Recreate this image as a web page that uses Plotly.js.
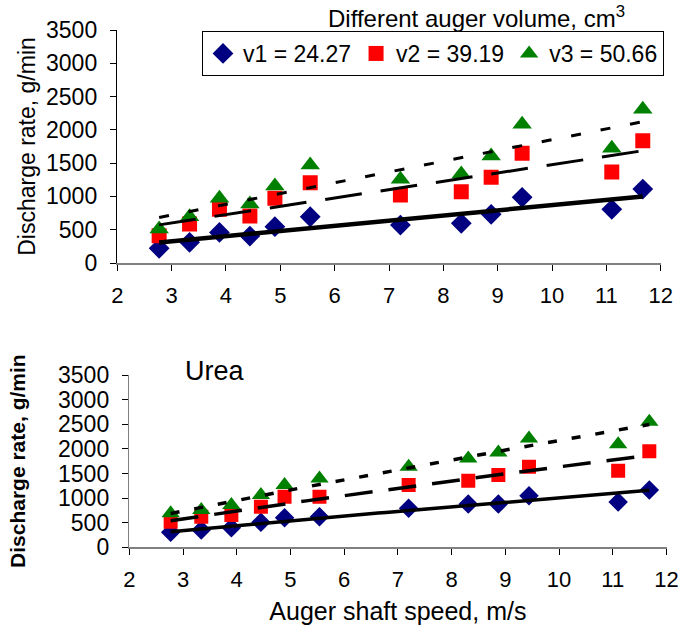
<!DOCTYPE html>
<html><head><meta charset="utf-8">
<script src="https://cdn.plot.ly/plotly-3.0.1.min.js"></script>
<style>html,body{margin:0;padding:0;background:#fff}#chart{width:684px;height:635px}</style>
</head><body><div id="chart"></div>
<script>
// Top chart data (first material)
const speedTop = [2.77, 3.33, 3.88, 4.44, 4.90, 5.55, 7.21, 8.33, 8.88, 9.45, 11.10, 11.67];
const topV1 = [220, 310, 460, 405, 545, 695, 570, 596, 731, 986, 806, 1111];
const topV2 = [410, 585, 806, 705, 971, 1206, 1021, 1071, 1287, 1647, 1366, 1837];
const topV3 = [510, 695, 971, 886, 1156, 1471, 1257, 1336, 1607, 2083, 1722, 2308];
// Bottom chart data (Urea)
const speedBot = [2.77, 3.34, 3.90, 4.45, 4.89, 5.54, 7.20, 8.31, 8.87, 9.44, 11.10, 11.68];
const botV1 = [304, 351, 398, 507, 600, 621, 791, 878, 878, 1047, 919, 1162];
const botV2 = [519, 621, 655, 824, 1026, 1026, 1264, 1351, 1467, 1635, 1554, 1953];
const botV3 = [690, 757, 858, 1061, 1264, 1400, 1635, 1805, 1927, 2211, 2095, 2548];
const seriesNames = ['v1 = 24.27', 'v2 = 39.19', 'v3 = 50.66'];
const yTicks = [0, 500, 1000, 1500, 2000, 2500, 3000, 3500];
const xTicks = [2, 3, 4, 5, 6, 7, 8, 9, 10, 11, 12];

const colors = ['#000080', '#FF0000', '#008000'];
const symbols = ['diamond', 'square', 'triangle-up'];
const msize = [16, 15, 17];

function linFit(x, y) {
  const n = x.length;
  const mx = x.reduce((a, b) => a + b, 0) / n, my = y.reduce((a, b) => a + b, 0) / n;
  let sxy = 0, sxx = 0;
  for (let i = 0; i < n; i++) { sxy += (x[i] - mx) * (y[i] - my); sxx += (x[i] - mx) ** 2; }
  const b = sxy / sxx, a = my - b * mx;
  return t => a + b * t;
}
function powFit(x, y) {
  const lx = x.map(Math.log), ly = y.map(Math.log);
  const f = linFit(lx, ly);
  return t => Math.exp(f(Math.log(t)));
}
function curve(x, fn) {
  const lo = Math.min(...x), hi = Math.max(...x);
  const xs = [], ys = [];
  for (let i = 0; i <= 60; i++) { const t = lo + (hi - lo) * i / 60; xs.push(t); ys.push(fn(t)); }
  return { xs, ys };
}

const traces = [];
const topSeries = [topV1, topV2, topV3];
const botSeries = [botV1, botV2, botV3];
for (let k = 0; k < 3; k++) {
  traces.push({ x: speedTop, y: topSeries[k], type: 'scatter', mode: 'markers', name: seriesNames[k],
    marker: { color: colors[k], symbol: symbols[k], size: msize[k] }, xaxis: 'x', yaxis: 'y', showlegend: true });
}
for (let k = 0; k < 3; k++) {
  traces.push({ x: speedBot, y: botSeries[k], type: 'scatter', mode: 'markers', name: seriesNames[k],
    marker: { color: colors[k], symbol: symbols[k], size: msize[k] - 1 }, xaxis: 'x2', yaxis: 'y2', showlegend: false });
}
const topDash = ['solid', '37px,19px', '10px,20px'];
const topW = [4.5, 3, 3];
for (let k = 0; k < 3; k++) {
  const c = curve(speedTop, linFit(speedTop, topSeries[k]));
  traces.push({ x: c.xs, y: c.ys, type: 'scatter', mode: 'lines', line: { color: '#000', width: topW[k], dash: topDash[k] },
    xaxis: 'x', yaxis: 'y', showlegend: false, hoverinfo: 'skip' });
}
const botDash = ['solid', '28px,16px', '9px,15px'];
const botW = [3.5, 3.5, 3.5];
for (let k = 0; k < 3; k++) {
  const c = curve(speedBot, powFit(speedBot, botSeries[k]));
  traces.push({ x: c.xs, y: c.ys, type: 'scatter', mode: 'lines', line: { color: '#000', width: botW[k], dash: botDash[k] },
    xaxis: 'x2', yaxis: 'y2', showlegend: false, hoverinfo: 'skip' });
}

const W = 684, H = 635;
const px = v => v / W, py = v => (H - v) / H;
const font = 'Liberation Sans, Arial, sans-serif';

const xBase = { range: [2, 12], tickvals: xTicks, ticktext: xTicks.map(String), showgrid: false, zeroline: false,
  showline: true, linecolor: '#808080', linewidth: 1.5, ticks: 'outside', ticklen: 6, tickcolor: '#000', tickwidth: 1,
  tickfont: { family: font, size: 22, color: '#000' }, ticklabelstandoff: 6 };
const yBase = { range: [0, 3500], tickvals: yTicks, ticktext: yTicks.map(String), showgrid: false, zeroline: false,
  showline: true, linewidth: 1.5, ticks: 'outside', ticklen: 6, tickcolor: '#000', tickwidth: 1 };

const layout = {
  width: W, height: H, margin: { l: 0, r: 0, t: 0, b: 0 }, paper_bgcolor: '#fff', plot_bgcolor: '#fff',
  font: { family: font, color: '#000' },
  xaxis: Object.assign({}, xBase, { domain: [px(117.3), px(660.7)], anchor: 'y' }),
  yaxis: Object.assign({}, yBase, { domain: [py(263), py(30)], anchor: 'x', linecolor: '#000',
    tickfont: { family: font, size: 23, color: '#000' }, ticklabelstandoff: 8,
    title: { text: 'Discharge rate, g/min', font: { family: font, size: 23, color: '#000' }, standoff: 4 } }),
  xaxis2: Object.assign({}, xBase, { domain: [px(129.3), px(666.5)], anchor: 'y2',
    title: { text: 'Auger shaft speed, m/s', font: { family: font, size: 25, color: '#000' }, standoff: 11 } }),
  yaxis2: Object.assign({}, yBase, { domain: [py(547.3), py(375)], anchor: 'x2', linecolor: '#808080',
    tickfont: { family: font, size: 23, color: '#000' }, ticklabelstandoff: 8,
    title: { text: '<b>Discharge rate, g/min</b>', font: { family: font, size: 21, color: '#000' }, standoff: 26 } }),
  legend: { orientation: 'h', x: px(202), y: py(31), xanchor: 'left', yanchor: 'top', bgcolor: '#fff',
    bordercolor: '#000', borderwidth: 1, font: { family: font, size: 23, color: '#000' }, itemwidth: 30 },
  annotations: [
    { text: 'Different auger volume, cm<sup>3</sup>', xref: 'paper', yref: 'paper', x: px(476), y: py(17),
      xanchor: 'center', yanchor: 'middle', showarrow: false, font: { family: font, size: 24, color: '#000' } },
    { text: 'Urea', xref: 'paper', yref: 'paper', x: px(183), y: py(371), xanchor: 'left', yanchor: 'middle',
      showarrow: false, font: { family: font, size: 27, color: '#000' } }
  ]
};
Plotly.newPlot('chart', traces, layout, { displayModeBar: false, staticPlot: true });
</script></body></html>
